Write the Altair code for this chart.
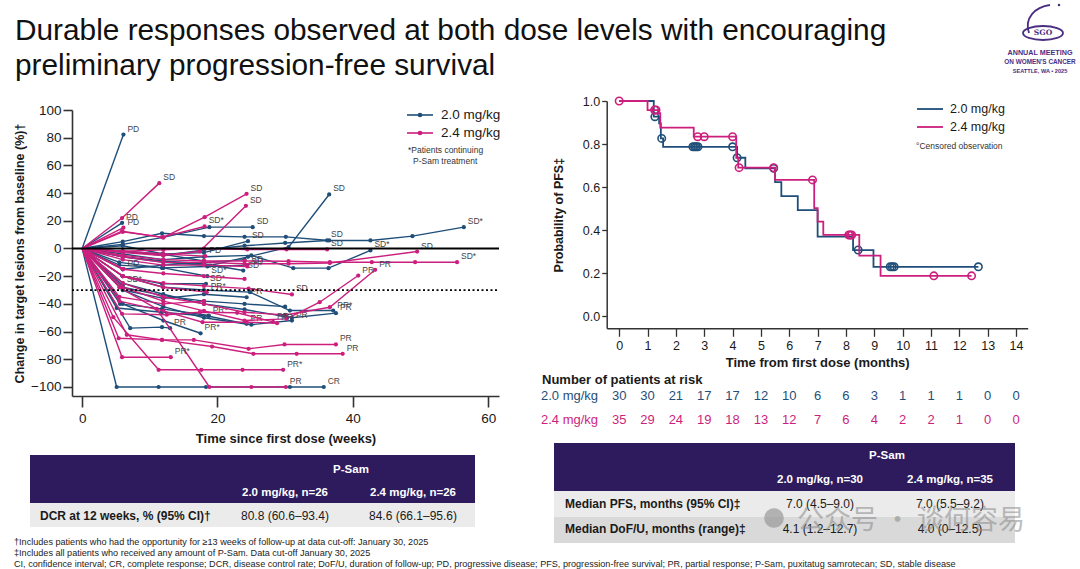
import altair as alt
import pandas as pd

W, H = 1080, 569
FONT = "Liberation Sans"
NAVY = "#1f4e79"
PINK = "#cc1f7d"
INK = "#1a1a1a"
PURPLE = "#2d1b5e"
LOGO = "#4b2e83"
AXC = "#333333"

# ---------------- text content ----------------
title_lines = ["Durable responses observed at both dose levels with encouraging",
               "preliminary progression-free survival"]
arm_names = ["2.0 mg/kg", "2.4 mg/kg"]
spider_note = ["*Patients continuing", "P-Sam treatment"]
km_note = "°Censored observation"
risk_title = "Number of patients at risk"
left_tab_head = ["P-Sam", "2.0 mg/kg, n=26", "2.4 mg/kg, n=26"]
left_tab_row = ["DCR at 12 weeks, % (95% CI)†", "80.8 (60.6–93.4)", "84.6 (66.1–95.6)"]
right_tab_head = ["P-Sam", "2.0 mg/kg, n=30", "2.4 mg/kg, n=35"]
right_tab_row1 = ["Median PFS, months (95% CI)‡", "7.0 (4.5–9.0)", "7.0 (5.5–9.2)"]
right_tab_row2 = ["Median DoF/U, months (range)‡", "4.1 (1.2–12.7)", "4.0 (0–12.5)"]
footnotes = [
    "†Includes patients who had the opportunity for ≥13 weeks of follow-up at data cut-off: January 30, 2025",
    "‡Includes all patients who received any amount of P-Sam. Data cut-off January 30, 2025",
    "CI, confidence interval; CR, complete response; DCR, disease control rate; DoF/U, duration of follow-up; PD, progressive disease; PFS, progression-free survival; PR, partial response; P-Sam, puxitatug samrotecan; SD, stable disease",
]
logo_lines = ["SGO", "ANNUAL MEETING", "ON WOMEN'S CANCER", "SEATTLE, WA • 2025"]
watermark = "公众号 · 谈何容易"

# ---------------- spider plot data (weeks, % change) ----------------
weeks_20 = [
    [0, 6.1], [0, 5.9], [0, 5.1, 11.3, 18.3, 30.7, 35.7],
    [0, 6, 12, 18.9, 24.5, 30.5, 36.5], [0, 6, 11.8, 18, 24, 30.1, 36.5, 42.6, 48.8, 56.4],
    [0, 6, 12, 18.8, 25.2], [0, 6, 12, 18, 24.5], [0, 6, 12, 18, 25, 31.2, 36.4, 42.6],
    [0, 6, 12, 18, 23.8], [0, 6, 12, 18, 24, 30, 36.2], [0, 6, 12, 18, 24.8, 30.7, 37.1],
    [0, 6, 12, 18, 24, 31, 37.5], [0, 6, 12, 18, 25, 31], [0, 7.1, 11.8, 13],
    [0, 6, 12, 17.5], [0, 5.1, 11.8, 18.7, 24.3], [0, 6, 11.8, 18.3], [0, 5.5, 12, 18.5],
    [0, 6], [0, 5.5, 11.8, 18.5, 24.4], [0, 6, 12, 18, 24.3], [0, 6, 12, 18, 24],
    [0, 6, 11.8, 18], [0, 5.6, 11.8, 18.7], [0, 6, 12, 18, 24, 30],
]
change_20 = [
    [0, 82.3], [0, 18.5], [0, -100, -100, -100, -100, -100],
    [0, -6, -10, -12.3, -6, 1, 39], [0, 5, 11, 9, 8.4, 8.4, 5.8, 5.8, 8.9, 15.4],
    [0, 3, 8, 15.4, 15.4], [0, 2, -4, -3, 5.3], [0, -4, -8, -6, -5, -14.2, -14.2, -1.4],
    [0, -6, -9, -11, -15.9], [0, -2, -5, -1, 2, 4, 5.8], [0, -20, -28, -30, -31.5, -44.8, -44.8],
    [0, -25, -33, -40, -44, -50, -46.7], [0, -30, -42, -50, -55, -52], [0, -57.5, -56.8, -57.5],
    [0, -40, -52, -61.2], [0, -43, -46, -48.9, -54.4], [0, -20, -25.5, -25.5], [0, -12, -14, -20],
    [0, -26.7], [0, -10, -14, -13, -12], [0, -30, -36, -33, -35.2], [0, -15, -12, -10, -8],
    [0, -2, -4, -9], [0, -40, -43.6, -48.4], [0, -28, -34, -38, -40, -42],
]
resp_20 = ["PD", "PD", "CR", "SD", "SD", "SD", "SD", "SD", "SD", "SD", "PR", "PR", "PR", "PR",
           "PR", "PR", "SD", "SD", "SD", "SD", "PR", "", "", "PR", ""]
ongoing_20 = [False, False, False, False, True, False, False, True, True, False, True, False, False,
              False, True, False, True, True, True, False, False, False, False, True, False]

weeks_24 = [
    [0, 5.9, 11.4], [0, 5.9, 12, 18.1, 24.3], [0, 6, 12, 17.4, 24.2], [0, 6.1],
    [0, 6, 12, 18.2], [0, 6.1], [0, 6, 12, 18, 24, 30.5, 36.6, 42.8, 49.2, 55.4],
    [0, 6, 12, 18, 24.4, 30.2, 36.2], [0, 6, 12, 18, 24, 30.5, 36.6, 49.5],
    [0, 6, 12, 18, 24, 30.2, 35.1, 40.8], [0, 6, 12, 18, 24, 30, 36.6, 43.3],
    [0, 6, 12, 18, 24.6, 31], [0, 6.6, 11.8, 16.5, 24.6, 29.9, 37.5],
    [0, 5.4, 11.8, 19.2, 25.3, 31.7, 38.5], [0, 4.6, 11.3, 17.6, 23.7, 29.7], [0, 5.9, 13.1],
    [0, 5.5, 11, 18.8, 25, 30.1], [0, 5.9, 12.5, 17.4, 22.9, 28.2], [0, 5.5, 12, 17.8, 24.3, 28.8],
    [0, 6, 11.8, 18.1], [0, 6, 12, 18, 24.4], [0, 6, 12, 18.4], [0, 5.5, 12, 18], [0, 6, 12, 18, 24],
]
change_24 = [
    [0, 22, 47.2], [0, 12.5, 8, 22.6, 39.5], [0, -3, -5, -2, 30.8], [0, 15],
    [0, -2, -4, -5.5], [0, -14.7], [0, -5, -8, -9, -9, -9.2, -9.9, -9.9, -9.9, -9.9],
    [0, -2, -1, 0, -0.7, -0.7, -0.7], [0, -6, -10, -10, -11, -11, -10.5, -2.2],
    [0, -28, -38, -45, -52, -50.8, -38.8, -19.5], [0, -25, -35, -40, -46, -48, -42.4, -15.4],
    [0, -20, -25, -27, -29, -33.2], [0, -62.3, -66, -66, -72.4, -69.3, -69.3],
    [0, -64.8, -66, -70.8, -76, -76, -76], [0, -49.6, -87.6, -87.6, -87.6, -87.6], [0, -78.5, -78.5],
    [0, -28, -43.6, -100, -100, -100], [0, -47.2, -47.8, -46, -46.4, -53], [0, -38, -45, -53.2, -53.2, -53.9],
    [0, 12, 8.2, 15.9], [0, -8, -12, -12, -13], [0, -20, -28, -31.5], [0, -35, -40, -38], [0, -15, -18, -20, -22],
]
resp_24 = ["SD", "SD", "SD", "PD", "PD", "PD", "SD", "SD", "SD", "PR", "PR", "SD", "PR", "PR", "PR", "PR",
           "PR", "PR", "PR", "SD", "SD", "PR", "", ""]
ongoing_24 = [False, False, False, False, False, False, True, False, False, False, False, False, False,
              False, True, True, False, False, False, True, False, True, False, False]

spider_x_ticks = [0, 20, 40, 60]
spider_y_ticks = [-100, -80, -60, -40, -20, 0, 20, 40, 60, 80, 100]

# ---------------- Kaplan-Meier data ----------------
km_t_20 = [0, 1.22, 1.41, 1.47, 1.55, 4.16, 4.45, 5.5, 5.72, 6.3, 7.0, 8.25, 8.97, 12.67]
km_s_20 = [1.0, 0.927, 0.896, 0.826, 0.787, 0.736, 0.687, 0.623, 0.558, 0.493, 0.369, 0.307, 0.229, 0.229]
cens_t_20 = [1.26, 1.5, 2.6, 2.66, 2.72, 2.78, 4.0, 4.16, 5.45, 8.43, 9.56, 9.63, 9.7, 12.67]
cens_s_20 = [0.927, 0.826, 0.787, 0.787, 0.787, 0.787, 0.787, 0.736, 0.687, 0.307, 0.229, 0.229, 0.229, 0.229]

km_t_24 = [0, 1.0, 1.38, 1.45, 2.63, 4.13, 4.2, 5.5, 6.88, 7.0, 7.2, 8.47, 9.22, 12.43]
km_s_24 = [1.0, 0.958, 0.943, 0.876, 0.834, 0.736, 0.69, 0.633, 0.502, 0.439, 0.377, 0.281, 0.187, 0.187]
cens_t_24 = [0, 1.25, 1.3, 2.77, 3.0, 4.0, 4.23, 5.45, 6.82, 8.1, 8.15, 8.2, 11.1, 12.43]
cens_s_24 = [1.0, 0.958, 0.958, 0.834, 0.834, 0.834, 0.69, 0.69, 0.633, 0.377, 0.377, 0.377, 0.187, 0.187]

risk_months = list(range(15))
risk_20 = [30, 30, 21, 17, 17, 12, 10, 6, 6, 3, 1, 1, 1, 0, 0]
risk_24 = [35, 29, 24, 19, 18, 13, 12, 7, 6, 4, 2, 2, 1, 0, 0]
km_y_ticks = [0.0, 0.2, 0.4, 0.6, 0.8, 1.0]

# ---------------- helpers ----------------
def px_text(rows, size, weight="normal", color=INK, align="left", opacity=1.0, font=FONT):
    df = pd.DataFrame(rows, columns=["t", "px", "py"])
    return alt.Chart(df).mark_text(
        fontSize=size, fontWeight=weight, color=color, align=align,
        baseline="middle", font=font, opacity=opacity
    ).encode(
        x=alt.X("px:Q", scale=None, axis=None),
        y=alt.Y("py:Q", scale=None, axis=None),
        text="t:N",
    )


def px_rect(x0, x1, y0, y1, color):
    return alt.Chart(pd.DataFrame({"k": [0]})).mark_rect(color=color).encode(
        x=alt.value(x0), x2=alt.value(x1), y=alt.value(y0), y2=alt.value(y1))


def spider_frames(weeks, change, resp, ongoing, tag):
    rows, ends = [], []
    for i, (w, c) in enumerate(zip(weeks, change)):
        for j, (a, b) in enumerate(zip(w, c)):
            rows.append(dict(pid=f"{tag}{i}", week=a, change=b, k=j))
        lab = resp[i] + ("*" if ongoing[i] else "")
        if lab:
            ends.append(dict(week=w[-1], change=c[-1], lab=lab))
    return pd.DataFrame(rows), pd.DataFrame(ends)


# ---------------- spider layer ----------------
sx = alt.Scale(domain=[-1.5, 61.6], range=[72, 499], nice=False, zero=False)
sy = alt.Scale(domain=[-106.5, 100], range=[396, 110], nice=False, zero=False)
sx_axis = alt.Axis(orient="bottom", offset=-(H - 396), values=spider_x_ticks, grid=False,
                   domainColor=AXC, domainWidth=1.6, tickColor=AXC, tickWidth=1.6, tickSize=11,
                   labelFont=FONT, labelFontSize=13.5, labelColor=INK, labelPadding=4,
                   title="Time since first dose (weeks)", titleFont=FONT, titleFontSize=13,
                   titleFontWeight="bold", titleColor=INK, titlePadding=8)
sy_axis = alt.Axis(orient="left", offset=-72, values=spider_y_ticks, grid=False,
                   domainColor=AXC, domainWidth=1.6, tickColor=AXC, tickWidth=1.6, tickSize=9,
                   labelFont=FONT, labelFontSize=13.5, labelColor=INK, labelPadding=2,
                   title="Change in target lesions from baseline (%)†", titleFont=FONT,
                   titleFontSize=12.5, titleFontWeight="bold", titleColor=INK, titlePadding=4)

SX = alt.X("week:Q", scale=sx, axis=sx_axis)
SY = alt.Y("change:Q", scale=sy, axis=sy_axis)

spider_layers = []
for weeks, change, resp, ongoing, tag, col in [
    (weeks_20, change_20, resp_20, ongoing_20, "b", NAVY),
    (weeks_24, change_24, resp_24, ongoing_24, "p", PINK),
]:
    df, ends = spider_frames(weeks, change, resp, ongoing, tag)
    base = alt.Chart(df)
    spider_layers.append(base.mark_line(color=col, strokeWidth=1.4).encode(
        x=SX, y=SY, detail="pid:N", order="k:Q"))
    spider_layers.append(base.transform_filter("datum.k > 0").mark_circle(
        color=col, size=18, opacity=1).encode(x=SX, y=SY))
    spider_layers.append(alt.Chart(ends).mark_text(
        font=FONT, fontSize=8.5, color="#444444", align="left", baseline="middle", dx=4, dy=-6
    ).encode(x=SX, y=SY, text="lab:N"))

ref_lines = pd.DataFrame({"a": [-1.5, -1.5], "b": [61.6, 61.6], "change": [0, -30], "kind": ["zero", "dcr"]})
zero_rule = alt.Chart(ref_lines).transform_filter("datum.kind == 'zero'").mark_rule(
    color="black", strokeWidth=2).encode(x=alt.X("a:Q", scale=sx, axis=sx_axis), x2="b:Q", y=SY)
dcr_rule = alt.Chart(ref_lines).transform_filter("datum.kind == 'dcr'").mark_rule(
    color="black", strokeWidth=1.8, strokeDash=[2, 2.5]).encode(
    x=alt.X("a:Q", scale=sx, axis=sx_axis), x2="b:Q", y=SY)

spider = alt.layer(*spider_layers, zero_rule, dcr_rule)

# ---------------- KM layer ----------------
kx = alt.Scale(domain=[-0.44, 14.41], range=[606.7, 1027.7], nice=False, zero=False)
ky = alt.Scale(domain=[-0.057, 1.0], range=[328.3, 101], nice=False, zero=False)
kx_axis = alt.Axis(orient="bottom", offset=-(H - 328.3), values=risk_months, grid=False,
                   domainColor=AXC, domainWidth=1.5, tickColor=AXC, tickWidth=1.3, tickSize=8,
                   labelFont=FONT, labelFontSize=12.5, labelColor=INK, labelPadding=3,
                   title="Time from first dose (months)", titleFont=FONT, titleFontSize=13,
                   titleFontWeight="bold", titleColor=INK, titlePadding=5)
ky_axis = alt.Axis(orient="left", offset=-606.7, values=km_y_ticks, format=".1f", grid=False,
                   domainColor=AXC, domainWidth=1.5, tickColor=AXC, tickWidth=1.3, tickSize=5,
                   labelFont=FONT, labelFontSize=12.5, labelColor=INK, labelPadding=2,
                   title="Probability of PFS‡", titleFont=FONT, titleFontSize=12.5,
                   titleFontWeight="bold", titleColor=INK, titlePadding=17)
KX = alt.X("t:Q", scale=kx, axis=kx_axis)
KY = alt.Y("s:Q", scale=ky, axis=ky_axis)

km_layers = []
for tt, ss, ct, cs, col in [(km_t_20, km_s_20, cens_t_20, cens_s_20, NAVY),
                            (km_t_24, km_s_24, cens_t_24, cens_s_24, PINK)]:
    km_layers.append(alt.Chart(pd.DataFrame({"t": tt, "s": ss})).mark_line(
        color=col, strokeWidth=1.8, interpolate="step-after").encode(x=KX, y=KY))
    km_layers.append(alt.Chart(pd.DataFrame({"t": ct, "s": cs})).mark_point(
        color=col, shape="circle", filled=False, size=55, strokeWidth=1.6, opacity=1).encode(x=KX, y=KY))

for counts, col, ypix in [(risk_20, NAVY, 396), (risk_24, PINK, 420)]:
    km_layers.append(alt.Chart(pd.DataFrame({"t": risk_months, "n": counts})).mark_text(
        font=FONT, fontSize=13, color=col, align="center", baseline="middle").encode(
        x=KX, y=alt.value(ypix), text="n:N"))

km = alt.layer(*km_layers)

# ---------------- annotations (title, legends, tables, notes) ----------------
ann = []
ann.append(px_text([(title_lines[0], 15, 31), (title_lines[1], 15, 66)], 29.8, color="#111111"))

# logo: swoosh + ring + text
ann.append(alt.Chart(pd.DataFrame({"k": [0]})).mark_point(
    shape=("M 0.5 -0.85 C -0.25 -0.75 -0.8 -0.2 -0.55 0.55 "
           "M -0.85 0.55 A 1 0.35 0 1 0 1.15 0.55 A 1 0.35 0 1 0 -0.85 0.55"),
    size=1600, filled=False, color=LOGO, strokeWidth=1.8, opacity=1).encode(
    x=alt.value(1040), y=alt.value(22)))
ann.append(alt.Chart(pd.DataFrame({"k": [0]})).mark_circle(color=LOGO, size=6, opacity=1).encode(
    x=alt.value(1059), y=alt.value(5)))
ann.append(px_text([(logo_lines[0], 1043, 33)], 7.5, weight="bold", color=LOGO, align="center",
                   font="DejaVu Serif"))
ann.append(px_text([(logo_lines[1], 1040, 53)], 7.2, weight="bold", color=LOGO, align="center"))
ann.append(px_text([(logo_lines[2], 1040, 61.5)], 6.4, weight="bold", color=LOGO, align="center"))
ann.append(px_text([(logo_lines[3], 1040, 70.5)], 5.6, weight="bold", color=LOGO, align="center"))

# spider legend
for name, col, ypix in [(arm_names[0], NAVY, 115), (arm_names[1], PINK, 133)]:
    ann.append(alt.Chart(pd.DataFrame({"k": [0]})).mark_rule(color=col, strokeWidth=1.6).encode(
        x=alt.value(407), x2=alt.value(433), y=alt.value(ypix)))
    ann.append(alt.Chart(pd.DataFrame({"k": [0]})).mark_circle(color=col, size=22, opacity=1).encode(
        x=alt.value(420), y=alt.value(ypix)))
    ann.append(px_text([(name, 441, ypix)], 13.5))
ann.append(px_text([(spider_note[0], 408, 150), (spider_note[1], 413, 161)], 8.5, color="#333333"))

# KM legend
for name, col, ypix in [(arm_names[0], NAVY, 109), (arm_names[1], PINK, 127)]:
    ann.append(alt.Chart(pd.DataFrame({"k": [0]})).mark_rule(color=col, strokeWidth=1.8).encode(
        x=alt.value(917), x2=alt.value(943), y=alt.value(ypix)))
    ann.append(px_text([(name, 950, ypix)], 12.5))
ann.append(px_text([(km_note, 916, 146)], 8.5, color="#333333"))

# number at risk
ann.append(px_text([(risk_title, 542, 380)], 13, weight="bold"))
ann.append(px_text([(arm_names[0], 541, 396)], 13, color=NAVY))
ann.append(px_text([(arm_names[1], 541, 420)], 13, color=PINK))

# left table
ann.append(px_rect(30, 475, 455, 503, PURPLE))
ann.append(px_rect(30, 475, 503, 527, "#ebebeb"))
ann.append(px_text([(left_tab_head[0], 351, 470), (left_tab_head[1], 285, 493), (left_tab_head[2], 413, 493)],
                   11.5, weight="bold", color="white", align="center"))
ann.append(px_text([(left_tab_row[0], 40, 516)], 12, weight="bold"))
ann.append(px_text([(left_tab_row[1], 285, 516), (left_tab_row[2], 413, 516)], 12, align="center"))

# right table
ann.append(px_rect(554, 1015, 443, 491, PURPLE))
ann.append(px_rect(554, 1015, 491, 517, "#ebebeb"))
ann.append(px_rect(554, 1015, 517, 543, "#d9d9d9"))
ann.append(px_text([(right_tab_head[0], 887, 456), (right_tab_head[1], 820, 480), (right_tab_head[2], 950, 480)],
                   11.5, weight="bold", color="white", align="center"))
ann.append(px_text([(right_tab_row1[0], 565, 504), (right_tab_row2[0], 565, 529)], 12, weight="bold"))
ann.append(px_text([(right_tab_row1[1], 820, 504), (right_tab_row1[2], 950, 504),
                    (right_tab_row2[1], 820, 529), (right_tab_row2[2], 950, 529)], 12, align="center"))

# watermark
ann.append(alt.Chart(pd.DataFrame({"k": [0, 1]})).mark_circle(color="#9a9a9a", opacity=0.45).encode(
    x=alt.value(774), y=alt.value(518), size=alt.value(380)))
ann.append(px_text([(watermark, 797, 521)], 27, color="#8a8a8a", opacity=0.55, font="Noto Sans CJK SC"))

# footnotes
ann.append(px_text([(footnotes[0], 14, 542), (footnotes[1], 14, 553), (footnotes[2], 14, 564)], 9.1,
                   color="#222222"))

annotations = alt.layer(*ann)

chart = alt.layer(spider, km, annotations).resolve_scale(
    x="independent", y="independent"
).resolve_axis(
    x="independent", y="independent"
).properties(
    width=W, height=H, background="white", padding=0,
    autosize=alt.AutoSizeParams(type="none", contains="padding"),
).configure_view(strokeWidth=0)

chart.save("out.html", embed_options={"renderer": "svg", "actions": False})
